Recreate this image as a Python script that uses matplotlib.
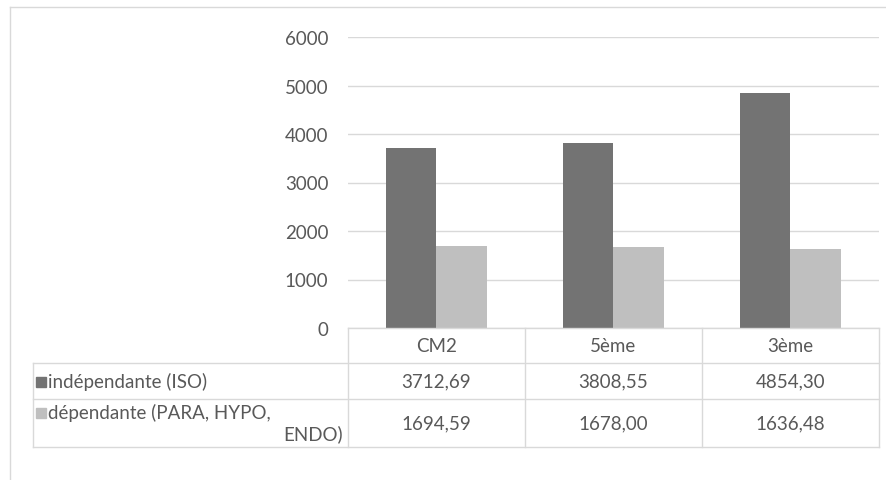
import matplotlib
matplotlib.use("Agg")
import matplotlib.pyplot as plt
from matplotlib.lines import Line2D
from matplotlib.patches import Rectangle

plt.rcParams['font.family'] = ['Lato', 'DejaVu Sans']

categories = ["CM2", "5ème", "3ème"]
series_names = ["indépendante (ISO)", "dépendante (PARA, HYPO,\nENDO)"]
independante = [3712.69, 3808.55, 4854.30]
dependante = [1694.59, 1678.00, 1636.48]
yticks = [0, 1000, 2000, 3000, 4000, 5000, 6000]

dark = "#737373"
light = "#BFBFBF"
grid_c = "#D9D9D9"
text_c = "#595959"

W, H = 887, 481
fig = plt.figure(figsize=(W / 100, H / 100), dpi=100)


def fx(x):
    return x / W


def fy(y):
    return 1 - y / H


def hline(y, x0, x1, c=grid_c):
    fig.add_artist(Line2D([fx(x0), fx(x1)], [fy(y), fy(y)], color=c, lw=1,
                          transform=fig.transFigure))


def vline(x, y0, y1, c=grid_c):
    fig.add_artist(Line2D([fx(x), fx(x)], [fy(y0), fy(y1)], color=c, lw=1,
                          transform=fig.transFigure))


fs = 13.5

# plot area
left, right, top, bottom = 348, 879, 38, 329
ax = fig.add_axes([fx(left), fy(bottom), fx(right - left), (bottom - top) / H])
idx = list(range(len(categories)))
w = 0.283
ax.bar([i - w / 2 for i in idx], independante, width=w, color=dark, zorder=3)
ax.bar([i + w / 2 for i in idx], dependante, width=w, color=light, zorder=3)
ax.set_xlim(-0.5, 2.5)
ax.set_ylim(0, 6000)
ax.set_yticks(yticks)
ax.set_yticklabels([str(t) for t in yticks])
ax.yaxis.grid(True, color=grid_c, lw=1)
ax.set_axisbelow(True)
ax.tick_params(axis='y', length=0, pad=14, labelsize=fs, labelcolor=text_c)
ax.set_xticks([])
for s in ax.spines.values():
    s.set_visible(False)

# outer chart frame
hline(8, 10, W)
vline(10, 8, H)

# data table
col_x = [348, 525, 702, 879]
row_y = [329, 364, 400, 448]
for x in col_x:
    vline(x, row_y[0], row_y[-1])
vline(33, row_y[1], row_y[-1])
hline(row_y[0], col_x[0], col_x[-1])
for y in row_y[1:]:
    hline(y, 33, col_x[-1])

for j, cat in enumerate(categories):
    cx = (col_x[j] + col_x[j + 1]) / 2
    fig.text(fx(cx), fy((row_y[0] + row_y[1]) / 2), cat, ha='center', va='center',
             fontsize=fs, color=text_c)
    for r, vals in enumerate([independante, dependante]):
        cy = (row_y[r + 1] + row_y[r + 2]) / 2
        fig.text(fx(cx), fy(cy), f"{vals[j]:.2f}".replace(".", ","), ha='center',
                 va='center', fontsize=fs, color=text_c)

# legend keys in table
fig.add_artist(Rectangle((fx(36), fy(388)), fx(10), 10 / H, color=dark,
                         transform=fig.transFigure))
fig.text(fx(48), fy(382), series_names[0], ha='left', va='center', fontsize=fs,
         color=text_c)
fig.add_artist(Rectangle((fx(36), fy(419)), fx(10), 10 / H, color=light,
                         transform=fig.transFigure))
line1, line2 = series_names[1].split("\n")
fig.text(fx(48), fy(413), line1, ha='left', va='center', fontsize=fs,
         color=text_c)
fig.text(fx(343), fy(434), line2, ha='right', va='center', fontsize=fs,
         color=text_c)

fig.savefig("out.png", dpi=100)
